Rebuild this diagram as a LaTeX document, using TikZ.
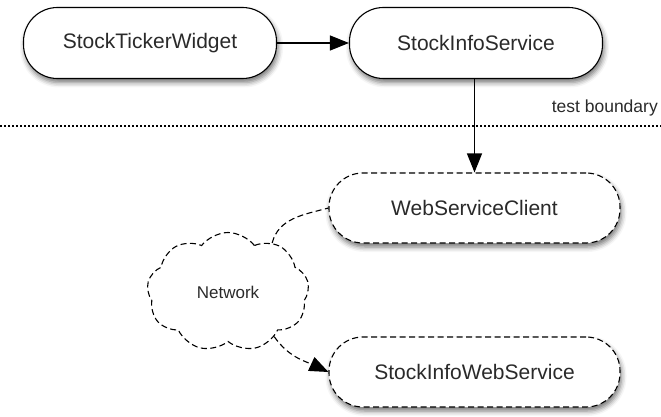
\documentclass[tikz,border=0pt]{standalone}
\usepackage{fontspec}
\setmainfont{Liberation Sans}
\usetikzlibrary{arrows.meta,shapes.symbols,shadows.blur}
\definecolor{txt}{HTML}{2A2A2A}
\begin{document}
\begin{tikzpicture}[x=1pt,y=1pt,
  box/.style={draw=black, line width=1.1pt, fill=white, rounded corners=34pt,
    minimum height=71pt, inner sep=0pt, text=txt,
    font=\fontsize{21}{25}\selectfont,
    blur shadow={shadow xshift=1.5pt, shadow yshift=-4pt, shadow blur radius=5pt, shadow opacity=55}},
  dbox/.style={box, dash pattern=on 6pt off 3.5pt},
  conn/.style={line width=1.1pt, draw=black},
  tip/.style={-{Triangle[length=19pt,width=15pt]}},
  dconn/.style={conn, dash pattern=on 6pt off 3.5pt},
  cloudnode/.style={cloud, cloud puffs=9, cloud puff arc=105, aspect=1.4,
    draw=black, line width=1.1pt, dash pattern=on 6pt off 3.5pt,
    minimum width=162pt, minimum height=119pt, inner sep=0pt,
    text=txt, font=\fontsize{17}{20}\selectfont},
  lbl/.style={text=txt, font=\fontsize{17.5}{20}\selectfont, inner sep=0pt}
]
\useasboundingbox (0,0) rectangle (661,416);
\node[box, minimum width=253pt] (w) at (150,373) {StockTickerWidget};
\node[box, minimum width=253pt] (s) at (476,373) {StockInfoService};
\node[dbox, minimum width=291pt, minimum height=70pt] (c) at (474.5,208) {WebServiceClient};
\node[dbox, minimum width=291pt, minimum height=70pt] (ws) at (474.5,44) {StockInfoWebService};
\node[cloudnode] (net) at (228,124) {Network};
\coordinate (bl) at (0,290);
\coordinate (br) at (661,290);
\draw[line width=1.1pt, dash pattern=on 2pt off 2pt] (bl) -- (br);
\node[lbl, anchor=south east] (tb) at (658,300) {test boundary};
\draw[conn, tip] (w) -- (s);
\draw[conn, tip] (c.north |- s.south) -- (c.north);
\draw[dconn] (net.48) to[out=75, in=195] (c.west);
\draw[dconn, tip] (net.-44) to[out=-55, in=155] (ws.west);
\end{tikzpicture}
\end{document}
